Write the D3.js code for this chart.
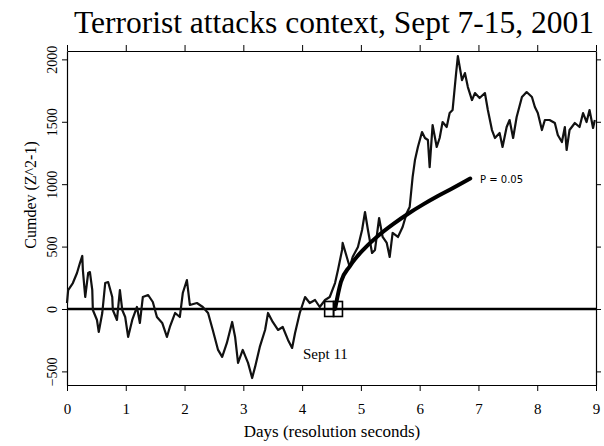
<!DOCTYPE html>
<html><head><meta charset="utf-8">
<script src="https://cdn.jsdelivr.net/npm/d3@7"></script>
<style>body{margin:0;background:#fff}svg{display:block}</style>
</head><body>
<svg id="c" width="604" height="446"></svg>
<script>
const title = "Terrorist attacks context, Sept 7-15, 2001";
const xLabel = "Days (resolution seconds)";
const yLabel = "Cumdev (Z^2-1)";
const xTicks = [0,1,2,3,4,5,6,7,8,9];
const yTicks = [-500,0,500,1000,1500,2000];
const days = [0,0.02,0.10,0.17,0.22,0.26,0.27,0.31,0.36,0.39,0.43,0.44,0.51,0.54,0.60,0.65,0.70,0.77,0.78,0.85,0.90,0.94,0.99,1.04,1.11,1.19,1.24,1.29,1.38,1.46,1.53,1.62,1.70,1.75,1.84,1.92,1.97,2.04,2.09,2.21,2.31,2.40,2.48,2.57,2.64,2.72,2.81,2.86,2.91,2.99,3.08,3.15,3.20,3.28,3.37,3.42,3.50,3.59,3.67,3.76,3.83,3.88,3.96,4.05,4.13,4.22,4.30,4.39,4.47,4.56,4.61,4.68,4.69,4.76,4.81,4.86,4.95,5.02,5.07,5.12,5.19,5.24,5.31,5.37,5.44,5.49,5.54,5.63,5.71,5.78,5.83,5.88,5.92,5.97,6.04,6.09,6.14,6.17,6.22,6.29,6.34,6.39,6.46,6.51,6.56,6.62,6.65,6.72,6.77,6.82,6.89,6.94,7.02,7.11,7.16,7.23,7.28,7.36,7.41,7.48,7.53,7.59,7.65,7.74,7.82,7.91,7.96,8.01,8.08,8.13,8.21,8.30,8.35,8.42,8.47,8.50,8.55,8.64,8.72,8.78,8.84,8.89,8.95,8.98];
const cumdev = [48,152,208,288,368,425,312,96,288,296,152,-8,-88,-184,-32,208,216,96,-8,-88,152,-8,-64,-224,-88,16,-112,96,112,56,-64,-112,-224,-144,-32,-64,128,232,32,48,16,-32,-168,-328,-384,-272,-104,-224,-432,-328,-432,-553,-464,-304,-168,-32,-104,-168,-144,-248,-312,-192,-32,96,48,72,16,72,96,208,312,473,529,417,336,417,497,633,777,633,449,473,729,577,529,417,609,577,657,769,817,1057,1193,1298,1418,1370,1354,1137,1474,1298,1370,1498,1458,1570,1594,1890,2026,1834,1890,1778,1674,1730,1690,1730,1594,1434,1370,1410,1298,1458,1514,1370,1538,1698,1738,1698,1618,1570,1434,1514,1514,1490,1394,1338,1458,1274,1434,1490,1458,1570,1498,1594,1450,1514];
const pDays = [4.56,4.66,4.81,5.06,5.31,5.56,5.81,6.06,6.31,6.56,6.86];
const pVals = [0,216,342,484,593,684,765,838,905,967,1045];
const markerDays = [4.46,4.61];
const pLabel = "P = 0.05";
const eventLabel = "Sept 11";

const svg = d3.select("#c");
const x = d3.scaleLinear().domain([0,9]).range([67,596]);
const y = d3.scaleLinear().domain([-609,2067]).range([385,51]);
const serif = "'Liberation Serif','DejaVu Serif',serif";

svg.append("text").attr("x",334).attr("y",33).attr("text-anchor","middle")
  .attr("font-family",serif).attr("font-size",31.5).text(title);

const g = svg.append("g");
const ax = (sel)=>sel.call(s=>s.select(".domain").attr("stroke","#000").attr("stroke-width",1.2))
  .call(s=>s.selectAll(".tick line").attr("stroke","#000").attr("stroke-width",1));
g.append("g").attr("transform","translate(0,385)")
  .call(d3.axisBottom(x).tickValues(xTicks).tickSize(6).tickSizeOuter(0).tickPadding(12).tickFormat(d3.format("d")))
  .call(ax).call(s=>s.selectAll("text").attr("font-family",serif).attr("font-size",15).attr("fill","#000"));
g.append("g").attr("transform","translate(0,51)")
  .call(d3.axisTop(x).tickValues(xTicks).tickSize(6).tickSizeOuter(0).tickFormat(""))
  .call(ax);
const yl = g.append("g").attr("transform","translate(67,0)")
  .call(d3.axisLeft(y).tickValues(yTicks).tickSize(5).tickSizeOuter(0).tickFormat(d3.format("d")))
  .call(ax);
yl.selectAll(".tick text").attr("font-family",serif).attr("font-size",14).attr("fill","#000")
  .attr("text-anchor","middle").attr("x",0).attr("dy",0)
  .attr("transform","translate(-10,0) rotate(-90)");
g.append("g").attr("transform","translate(596,0)")
  .call(d3.axisRight(y).tickValues(yTicks).tickSize(5).tickSizeOuter(0).tickFormat(""))
  .call(ax);

svg.append("text").attr("transform","translate(36,195) rotate(-90)").attr("text-anchor","middle")
  .attr("font-family",serif).attr("font-size",16).text(yLabel);
svg.append("text").attr("x",332).attr("y",437).attr("text-anchor","middle")
  .attr("font-family",serif).attr("font-size",17).text(xLabel);

svg.append("line").attr("x1",x(0)).attr("x2",x(9)).attr("y1",y(0)).attr("y2",y(0))
  .attr("stroke","#000").attr("stroke-width",2.5);

const pts = days.map((d,i)=>[d,cumdev[i]]);
svg.append("path").datum(pts)
  .attr("d",d3.line().x(d=>x(d[0])).y(d=>y(d[1])))
  .attr("fill","none").attr("stroke","#111").attr("stroke-width",2.2).attr("stroke-linejoin","round");

const pp = pDays.map((d,i)=>[d,pVals[i]]);
svg.append("path").datum(pp)
  .attr("d",d3.line().curve(d3.curveMonotoneX).x(d=>x(d[0])).y(d=>y(d[1])))
  .attr("fill","none").attr("stroke","#000").attr("stroke-width",4).attr("stroke-linecap","round");

svg.selectAll("rect.mk").data(markerDays).enter().append("rect").attr("class","mk")
  .attr("x",d=>x(d)-4.5).attr("y",y(0)-7.5).attr("width",9).attr("height",15)
  .attr("fill","none").attr("stroke","#000").attr("stroke-width",1.6);

svg.append("text").attr("x",480).attr("y",183).attr("font-family","'DejaVu Sans',sans-serif")
  .attr("font-size",10).text(pLabel);
svg.append("text").attr("x",303).attr("y",359).attr("font-family",serif)
  .attr("font-size",15).text(eventLabel);
</script>
</body></html>
